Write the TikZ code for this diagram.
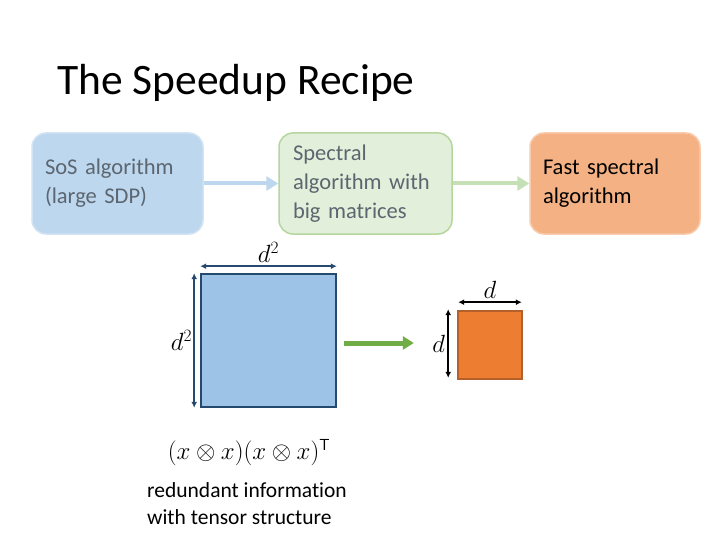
\documentclass[tikz,border=0pt]{standalone}
\usepackage{fontspec}
\setmainfont{Carlito}[RawFeature=-liga]
\usetikzlibrary{arrows.meta,calc}
\definecolor{bfill}{HTML}{BDD7EE}
\definecolor{bdraw}{HTML}{D2E3F3}
\definecolor{gfill}{HTML}{E2EFDA}
\definecolor{gdraw}{HTML}{B5D69C}
\definecolor{ofill}{HTML}{F4B183}
\definecolor{odraw}{HTML}{F8CBAD}
\definecolor{btxt}{HTML}{5C6670}
\definecolor{sqblue}{HTML}{9DC3E6}
\definecolor{sqedge}{HTML}{264A6E}
\definecolor{sqorange}{HTML}{ED7D31}
\definecolor{oedge}{HTML}{B4602A}
\definecolor{arrblue}{HTML}{BDD7EE}
\definecolor{arrgreen}{HTML}{C5E0B4}
\definecolor{dkgreen}{HTML}{70AD47}
\begin{document}
\begin{tikzpicture}[x=1pt,y=-1pt,
  stagebox/.style={rounded corners=14pt,line width=1.5pt,minimum height=101pt,align=left,
    inner ysep=0pt,font=\fontsize{22.5}{29}\selectfont},
  flowarrow/.style={line width=4pt,-{Triangle[length=12pt,width=14pt]}},
  dimarrow/.style={line width=1.6pt,{Latex[length=6pt,width=6pt]}-{Latex[length=6pt,width=6pt]}},
  dimlabel/.style={font=\fontsize{26}{26}\selectfont}]
\useasboundingbox (0,0) rectangle (720,540);
\fill[white] (0,0) rectangle (720,540);
\node[anchor=base west,font=\fontsize{43.5}{44}\selectfont,inner sep=0pt] (title) at (57,95) {The Speedup Recipe};
\node[stagebox,fill=bfill,draw=bdraw,text=btxt,minimum width=171pt,text width=145pt,inner xsep=13pt] (sos) at (117.5,183.5) {SoS algorithm\\(large SDP)};
\node[stagebox,fill=gfill,draw=gdraw,text=btxt,minimum width=173pt,text width=145pt,inner xsep=14pt] (spec) at (365.5,183.5) {Spectral\\algorithm with\\big matrices};
\node[stagebox,fill=ofill,draw=odraw,text=black,minimum width=170pt,text width=144pt,inner xsep=13pt] (fast) at (615,183.5) {Fast spectral\\algorithm};
\draw[flowarrow,draw=arrblue] (sos.east) -- (spec.west);
\draw[flowarrow,draw=arrgreen] (spec.east) -- (fast.west);
% matrices
\node[draw=sqedge,fill=sqblue,line width=1.6pt,minimum width=135pt,minimum height=133pt,inner sep=0pt] (bigsq) at (268.5,340.5) {};
\node[draw=oedge,fill=sqorange,line width=1.6pt,minimum width=64pt,minimum height=68pt,inner sep=0pt] (smsq) at (490,345) {};
\draw[dimarrow,draw=sqedge] ([yshift=7pt]bigsq.north west) -- ([yshift=7pt]bigsq.north east) node[midway,above=0pt,dimlabel,text=black] (bigtop) {$d^2$};
\draw[dimarrow,draw=sqedge] ([xshift=-6pt]bigsq.north west) -- ([xshift=-6pt]bigsq.south west) node[midway,left=-2pt,dimlabel,text=black] (bigleft) {$d^2$};
\draw[dimarrow,draw=black] ([yshift=8pt,xshift=1pt]smsq.north west) -- ([yshift=8pt,xshift=-1pt]smsq.north east) node[midway,above=0pt,dimlabel] (smtop) {$d$};
\draw[dimarrow,draw=black] ([xshift=-9pt,yshift=1pt]smsq.north west) -- ([xshift=-9pt,yshift=2pt]smsq.south west) node[midway,left=-1pt,dimlabel] (smleft) {$d$};
\draw[line width=5pt,draw=dkgreen,-{Triangle[length=11pt,width=13pt]}] ($(bigsq.east)+(7,2.5)$) -- ($(bigsq.east)+(77,2.5)$) coordinate (gend);
\node[font=\fontsize{24.5}{24}\selectfont] (formula) at (249,453) {$(x\otimes x)(x\otimes x)^{\textsf{\fontsize{16}{16}\selectfont T}}$};
\node[anchor=north west,align=left,inner sep=0pt,font=\fontsize{21.5}{27}\selectfont] (note) at (147,482) {redundant information\\with tensor structure};
\end{tikzpicture}
\end{document}
